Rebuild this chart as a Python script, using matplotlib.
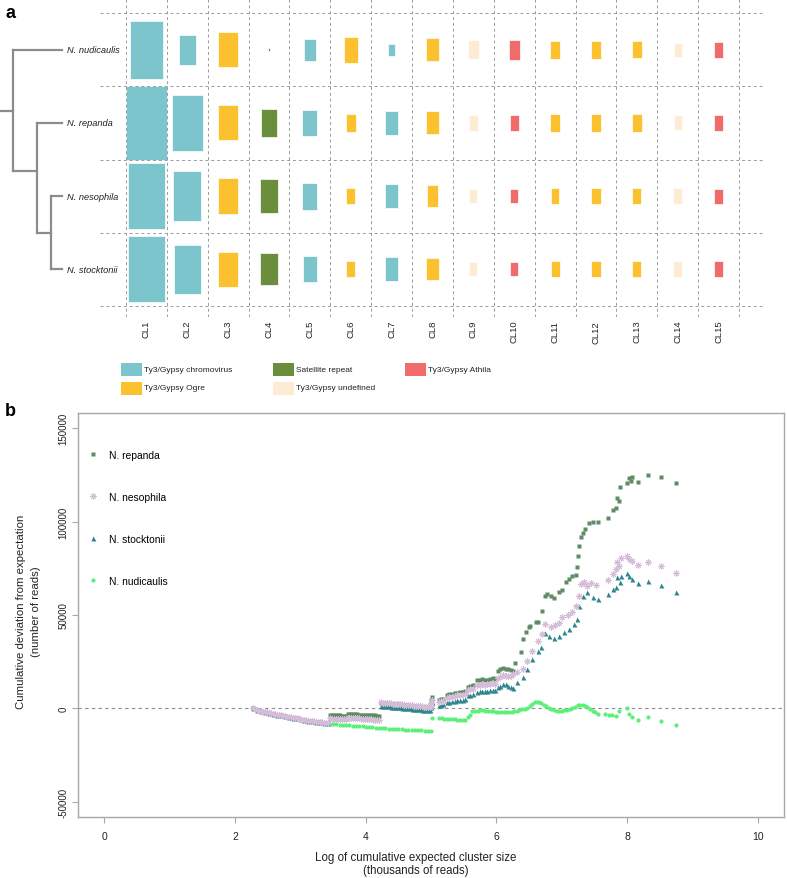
import numpy as np
import matplotlib
matplotlib.use("Agg")
import matplotlib.pyplot as plt
from matplotlib.patches import Rectangle

plt.rcParams['font.family'] = ['Liberation Sans', 'DejaVu Sans']

# ---------------- Panel a data ----------------
clusters = ["CL1", "CL2", "CL3", "CL4", "CL5", "CL6", "CL7", "CL8",
            "CL9", "CL10", "CL11", "CL12", "CL13", "CL14", "CL15"]
cluster_types = ["chromovirus", "chromovirus", "Ogre", "satellite", "chromovirus",
                 "Ogre", "chromovirus", "Ogre", "undefined", "Athila",
                 "Ogre", "Ogre", "Ogre", "undefined", "Athila"]
species_a = ["N. nudicaulis", "N. repanda", "N. nesophila", "N. stocktonii"]

# relative genome proportion of each cluster (rectangle area proportional)
pct_nudicaulis = [6.4, 1.68, 2.26, 0.016, 0.90, 1.22, 0.24, 0.99, 0.68, 0.70, 0.62, 0.65, 0.53, 0.36, 0.44]
pct_repanda = [10.0, 5.78, 2.30, 1.52, 1.33, 0.60, 1.09, 0.99, 0.48, 0.50, 0.58, 0.60, 0.58, 0.42, 0.50]
pct_nesophila = [8.17, 4.62, 2.40, 2.08, 1.37, 0.50, 1.11, 0.85, 0.40, 0.40, 0.44, 0.52, 0.52, 0.52, 0.42]
pct_stocktonii = [8.01, 4.49, 2.30, 1.94, 1.27, 0.50, 1.09, 0.90, 0.40, 0.40, 0.48, 0.52, 0.52, 0.52, 0.44]

type_labels = ["Ty3/Gypsy chromovirus", "Satellite repeat", "Ty3/Gypsy Athila",
               "Ty3/Gypsy Ogre", "Ty3/Gypsy undefined"]
type_keys = ["chromovirus", "satellite", "Athila", "Ogre", "undefined"]
type_colors = {"chromovirus": "#7cc5cc", "Ogre": "#fbc12e", "satellite": "#6b8e3c",
               "Athila": "#f06b6b", "undefined": "#fdebd3"}

# tree: node depths (tip = 1) and node rows
node1_depth, node2_depth = 0.49, 0.776
root_row, node1_row, node2_row = 0.83, 1.66, 2.5

# ---------------- Panel b data ----------------
rep_x = [2.28, 2.34, 2.40, 2.46, 2.52, 2.58, 2.64, 2.70, 2.76, 2.82, 2.88, 2.94, 3.00, 3.06, 3.12, 3.18, 3.24, 3.30, 3.36, 3.42,
         3.45, 3.48, 3.51, 3.54, 3.57, 3.60, 3.63, 3.66, 3.69, 3.72, 3.75, 3.78, 3.81, 3.84, 3.87, 3.90, 3.93, 3.96, 3.99, 4.02, 4.05, 4.08, 4.11, 4.14, 4.17, 4.20,
         4.23, 4.26, 4.29, 4.32, 4.35, 4.38, 4.41, 4.44, 4.47, 4.50, 4.53, 4.56, 4.59, 4.62, 4.65, 4.68, 4.71, 4.74, 4.77, 4.80, 4.83, 4.86, 4.89, 4.92, 4.95, 4.98,
         5.00, 5.00, 5.01, 5.12, 5.15, 5.18,
         5.24, 5.28, 5.32, 5.36, 5.40, 5.44, 5.48, 5.52, 5.56, 5.60, 5.64,
         5.70, 5.74, 5.78, 5.82, 5.86, 5.90, 5.94, 5.98, 6.02, 6.06, 6.10, 6.14, 6.18, 6.22, 6.26,
         6.29, 6.38, 6.41, 6.45, 6.50, 6.52, 6.60, 6.63, 6.70, 6.75, 6.78, 6.83, 6.88, 6.96, 7.01, 7.06, 7.11, 7.16, 7.21,
         7.23, 7.25, 7.27, 7.29, 7.32, 7.35, 7.42, 7.47, 7.55, 7.70, 7.79, 7.83, 7.85, 7.88, 7.89, 8.00, 8.03, 8.06, 8.08,
         8.17, 8.32, 8.51, 8.74]
rep_y = [0, -900, -1500, -2000, -2500, -2900, -3400, -3800, -4200, -4600, -5000, -5400, -5800, -6200, -6500, -6800, -7100, -7400, -7700, -8000,
         -3600, -3700, -3600, -3700, -3800, -3800, -3900, -4000, -4000, -2900, -3000, -3000, -3100, -3100, -3200, -3300, -3300, -3400, -3500, -3500, -3600, -3700, -3700, -3800, -3900, -4000,
         2900, 2800, 2700, 2600, 2500, 2400, 2300, 2200, 2100, 2000, 1900, 1800, 1700, 1600, 1500, 1400, 1300, 1200, 1100, 1000, 900, 800, 700, 600, 500, 400,
         2500, 4500, 6000, 4500, 4800, 5000,
         7200, 7500, 7800, 8100, 8400, 8600, 8900, 9200, 11300, 11800, 12300,
         15000, 15300, 15600, 15200, 15400, 15700, 16000, 15500, 20000, 21000, 21500, 21300, 21000, 20500, 20000,
         24300, 30000, 37100, 40700, 43400, 44300, 46100, 46400, 52300, 60300, 61300, 60200, 58900, 62200, 63600, 67500, 69300, 70700, 71400,
         75600, 81800, 86800, 91600, 94000, 96100, 99300, 99600, 99700, 101800, 106400, 107200, 112500, 111300, 118800, 120700, 123300, 122000, 123800,
         121400, 125000, 123800, 120700]

nes_x = [2.28, 2.31, 2.34, 2.37, 2.40, 2.43, 2.46, 2.49, 2.52, 2.55, 2.58, 2.61, 2.64, 2.67, 2.70, 2.73, 2.76, 2.79, 2.82, 2.85,
         2.88, 2.91, 2.94, 2.97, 3.00, 3.03, 3.06, 3.09, 3.12, 3.15, 3.18, 3.21, 3.24, 3.27, 3.30, 3.33, 3.36, 3.39, 3.42,
         3.45, 3.48, 3.51, 3.54, 3.57, 3.60, 3.63, 3.66, 3.69, 3.72, 3.75, 3.78, 3.81, 3.84, 3.87, 3.90, 3.93, 3.96, 3.99, 4.02, 4.05, 4.08, 4.11, 4.14, 4.17, 4.20,
         4.23, 4.26, 4.29, 4.32, 4.35, 4.38, 4.41, 4.44, 4.47, 4.50, 4.53, 4.56, 4.59, 4.62, 4.65, 4.68, 4.71, 4.74, 4.77, 4.80, 4.83, 4.86, 4.89, 4.92, 4.95, 4.98,
         5.00, 5.00, 5.01, 5.12, 5.15, 5.18,
         5.24, 5.28, 5.32, 5.36, 5.40, 5.44, 5.48, 5.52, 5.56, 5.60, 5.64,
         5.70, 5.74, 5.78, 5.82, 5.86, 5.90, 5.94, 5.98, 6.02, 6.06, 6.10, 6.14, 6.18, 6.22, 6.26,
         6.32, 6.40, 6.47, 6.55, 6.63, 6.70, 6.75, 6.83, 6.89, 6.96, 7.01, 7.09, 7.16, 7.21, 7.26, 7.29, 7.34, 7.39, 7.44, 7.52,
         7.70, 7.79, 7.83, 7.85, 7.88, 7.90, 8.00, 8.03, 8.08, 8.17, 8.32, 8.51, 8.74]
nes_y = [0, -500, -900, -1200, -1500, -1700, -2000, -2200, -2500, -2700, -2900, -3100, -3400, -3600, -3800, -4000, -4200, -4400, -4600, -4800,
         -5000, -5200, -5400, -5600, -5800, -6000, -6200, -6300, -6500, -6700, -6800, -7000, -7100, -7300, -7400, -7500, -7700, -7800, -8000,
         -5400, -5500, -5500, -5600, -5700, -5700, -5800, -5900, -5900, -5000, -5100, -5100, -5200, -5300, -5300, -5400, -5500, -5600, -5700, -5700, -5800, -5900, -6000, -6000, -6100, -6200,
         3200, 3100, 3000, 2900, 2800, 2700, 2600, 2500, 2400, 2300, 2200, 2100, 2000, 1900, 1800, 1700, 1600, 1500, 1400, 1300, 1200, 1100, 1000, 900, 800, 700,
         1500, 3000, 4500, 3600, 3800, 4000,
         5800, 6000, 6300, 6600, 6900, 7100, 7400, 7600, 9800, 10200, 10600,
         12500, 12700, 12900, 12600, 13000, 13300, 13600, 13200, 16500, 17000, 17800, 17500, 17300, 17500, 18500,
         19300, 21100, 25500, 30900, 36200, 39800, 45200, 43400, 44600, 45700, 48800, 50000, 51400, 55000, 60300, 66600, 67500, 65700, 67100, 66100,
         68900, 72000, 74700, 78200, 76100, 80400, 81500, 80000, 79100, 76800, 78200, 76400, 72500]

stk_x = [2.28, 2.34, 2.40, 2.46, 2.52, 2.58, 2.64, 2.70, 2.76, 2.82, 2.88, 2.94, 3.00, 3.06, 3.12, 3.18, 3.24, 3.30, 3.36, 3.42,
         3.45, 3.51, 3.57, 3.63, 3.69, 3.75, 3.81, 3.87, 3.93, 3.99, 4.05, 4.11, 4.17,
         4.23, 4.26, 4.29, 4.32, 4.35, 4.38, 4.41, 4.44, 4.47, 4.50, 4.53, 4.56, 4.59, 4.62, 4.65, 4.68, 4.71, 4.74, 4.77, 4.80, 4.83, 4.86, 4.89, 4.92, 4.95, 4.98,
         5.00, 5.00, 5.01, 5.12, 5.15, 5.18,
         5.24, 5.28, 5.32, 5.36, 5.40, 5.44, 5.48, 5.52, 5.56, 5.60, 5.64,
         5.70, 5.74, 5.78, 5.82, 5.86, 5.90, 5.94, 5.98, 6.02, 6.06, 6.10, 6.14, 6.18, 6.22, 6.26,
         6.32, 6.40, 6.47, 6.55, 6.63, 6.68, 6.75, 6.81, 6.88, 6.96, 7.03, 7.11, 7.19, 7.23, 7.26, 7.32, 7.39, 7.47, 7.55,
         7.70, 7.79, 7.83, 7.85, 7.89, 7.90, 8.00, 8.03, 8.08, 8.17, 8.32, 8.51, 8.74]
stk_y = [0, -900, -1500, -2000, -2500, -2900, -3400, -3800, -4200, -4600, -5000, -5400, -5800, -6200, -6500, -6800, -7100, -7400, -7700, -8000,
         -4800, -4900, -5000, -5100, -5200, -4300, -4400, -4600, -4700, -4900, -5100, -5300, -5400,
         1500, 1400, 1300, 1200, 1100, 1000, 900, 800, 700, 600, 500, 400, 300, 200, 100, 0, -100, -200, -300, -400, -500, -600, -700, -800, -800, -900,
         500, 2000, 3500, 1800, 2000, 2200,
         3300, 3500, 3800, 4000, 4300, 4500, 4700, 4900, 7000, 7400, 7800,
         9000, 9200, 9400, 9100, 9500, 9800, 10000, 9700, 11500, 12100, 12800, 13000, 12000, 11200, 10700,
         13900, 16600, 21100, 26400, 30900, 32700, 40400, 38700, 37500, 38900, 40900, 42500, 45200, 47900, 55000, 60300, 62200, 59500, 58600,
         61300, 63900, 65200, 70200, 67800, 71100, 72500, 70900, 69300, 67100, 68200, 66100, 62500]

nud_x = [2.28, 2.32, 2.36, 2.40, 2.44, 2.48, 2.52, 2.56, 2.60, 2.64, 2.68, 2.72, 2.76, 2.80, 2.84, 2.88, 2.92, 2.96, 3.00, 3.04,
         3.08, 3.12, 3.16, 3.20, 3.24, 3.28, 3.32, 3.36, 3.40, 3.45, 3.50, 3.55, 3.60, 3.65, 3.70, 3.75, 3.80, 3.85, 3.90, 3.95,
         4.00, 4.05, 4.10, 4.15, 4.20, 4.25, 4.30, 4.35, 4.40, 4.45, 4.50, 4.55, 4.60, 4.65, 4.70, 4.75, 4.80, 4.85, 4.90, 4.95, 5.00,
         5.02, 5.12, 5.16, 5.20, 5.24, 5.28, 5.32, 5.36, 5.40, 5.44, 5.48, 5.52,
         5.57, 5.60, 5.63, 5.67, 5.71, 5.75, 5.79, 5.83, 5.87, 5.91, 5.95, 5.99, 6.03, 6.07, 6.11, 6.15, 6.19, 6.23, 6.27, 6.31,
         6.35, 6.39, 6.43, 6.47, 6.51, 6.55, 6.59, 6.62, 6.65, 6.68, 6.72, 6.76, 6.80, 6.84, 6.88, 6.92, 6.96, 7.00, 7.04, 7.08,
         7.12, 7.16, 7.20, 7.24, 7.28, 7.32, 7.35, 7.39, 7.43, 7.47, 7.51, 7.56, 7.66, 7.72, 7.77, 7.83, 7.88, 8.00, 8.03, 8.08,
         8.17, 8.32, 8.51, 8.74]
nud_y = [0, -500, -1000, -1500, -1800, -2100, -2500, -2800, -3100, -3400, -3700, -3900, -4200, -4700, -5000, -5300, -5600, -5900, -6100, -6400,
         -6600, -6800, -7000, -7200, -7400, -7600, -7800, -8000, -8100, -8200, -8400, -8500, -8700, -8800, -9000, -9100, -9300, -9400, -9600, -9700,
         -9900, -10000, -10200, -10300, -10500, -10600, -10700, -10900, -11000, -11100, -11200, -11300, -11400, -11500, -11600, -11700, -11800, -11800, -11900, -11900, -12000,
         -5200, -5300, -5400, -5500, -5600, -5700, -5800, -5900, -6000, -6100, -6200, -6300,
         -4500, -3500, -1300, -1200, -1300, -1100, -1000, -1200, -1300, -1400, -1600, -1800, -2000, -2100, -2200, -2100, -2000, -1800, -1600, -1200,
         -900, -500, -200, 400, 1200, 2200, 3200, 3500, 3200, 2700, 2000, 1200, 300, -400, -900, -1200, -1400, -1300, -1100, -700,
         -200, 400, 1000, 1600, 2000, 1900, 1300, 700, -200, -1200, -2100, -3000, -3000, -3400, -3600, -4000, -1300, 0, -3000, -4600,
         -6300, -4800, -6800, -8800]

# ---------------- Figure ----------------
W, H = 787, 879
fig = plt.figure(figsize=(W / 100, H / 100), dpi=100)


def px_axes(l, t, r, b):
    return fig.add_axes([l / W, 1 - b / H, (r - l) / W, (b - t) / H])


GRID = '#9a9a9a'
n_cl = len(clusters)
n_sp = len(species_a)

# ---- heat/box grid ----
cell_px = (739 - 126) / 15.0
row_px = (306.7 - 14.3) / 4.0
axg = px_axes(100, 0, 763, 318)
axg.set_xlim(0.5 - 26 / cell_px, 15.5 + 24 / cell_px)
axg.set_ylim(3.5 + 11.3 / row_px, -0.5 - 14.3 / row_px)
for s in axg.spines.values():
    s.set_visible(False)

rows = [pct_nudicaulis, pct_repanda, pct_nesophila, pct_stocktonii]
vmax = max(max(r) for r in rows)
for i, vals in enumerate(rows):
    for j, v in enumerate(vals):
        s = np.sqrt(v / vmax)
        col = type_colors[cluster_types[j]]
        axg.add_patch(Rectangle((j + 1 - s / 2, i - s / 2), s, s, facecolor=col,
                                edgecolor='white', linewidth=0.5, zorder=2))
for k in range(n_cl + 1):
    axg.axvline(k + 0.5, color=GRID, lw=0.7, ls=(0, (3, 3)), zorder=3)
for k in range(n_sp + 1):
    axg.axhline(k - 0.5, color=GRID, lw=0.7, ls=(0, (3, 3)), zorder=3)
axg.set_xticks(range(1, n_cl + 1))
axg.set_xticklabels(clusters, rotation=90, fontsize=6.8, color='#222222')
axg.tick_params(axis='x', length=0, pad=2)
axg.set_yticks([])

# ---- tree ----
axt = px_axes(0, 0, 100, 318)
axt.set_ylim(axg.get_ylim())
axt.set_xlim(-13 / 49, 87 / 49)
axt.axis('off')
tc = '#8c8c8c'
tlw = 1.6
segs = [([-13 / 49, 0], [root_row, root_row]),
        ([0, 0], [0, node1_row]),
        ([0, 1], [0, 0]),
        ([0, node1_depth], [node1_row, node1_row]),
        ([node1_depth, node1_depth], [1, node2_row]),
        ([node1_depth, 1], [1, 1]),
        ([node1_depth, node2_depth], [node2_row, node2_row]),
        ([node2_depth, node2_depth], [2, 3]),
        ([node2_depth, 1], [2, 2]),
        ([node2_depth, 1], [3, 3])]
for xs, ys in segs:
    axt.plot(xs, ys, color=tc, lw=tlw, solid_capstyle='projecting')
for i, sp in enumerate(species_a):
    axt.text(1.102, i, sp, style='italic', fontsize=6.7, ha='left', va='center', color='#222222')

# ---- legend a ----
axl = px_axes(100, 355, 560, 400)
axl.set_xlim(100, 560)
axl.set_ylim(400, 355)
axl.axis('off')
leg_pos = [(121, 370), (273, 370), (405, 370), (121, 389), (273, 389)]
for (lx, ly), lab, key in zip(leg_pos, type_labels, type_keys):
    axl.add_patch(Rectangle((lx, ly - 6.5), 21, 13, facecolor=type_colors[key], edgecolor='none'))
    axl.text(lx + 23.5, ly, lab, fontsize=6, va='center', ha='left', color='#222222')

# ---- panel b ----
ax = px_axes(78.3, 414.3, 784, 817.7)
ax.set_xlim(-0.4, 10.4)
ax.set_ylim(-58000, 158000)
ax.axhline(0, color='#8c8c8c', lw=0.8, ls=(0, (3, 3)), zorder=1)

h_nud, = ax.plot(nud_x, nud_y, ls='none', marker='o', ms=3.0, color='#5cef79', mec='none', zorder=2)
h_rep, = ax.plot(rep_x, rep_y, ls='none', marker='s', ms=3.0, color='#5f8b65', mec='none', zorder=3)
h_stk, = ax.plot(stk_x, stk_y, ls='none', marker='^', ms=3.6, color='#2f878d', mec='none', zorder=4)
h_nes, = ax.plot(nes_x, nes_y, ls='none', marker=(8, 2, 0), ms=4.6, mew=0.7, color='#d5bcd9', zorder=5)

for s in ax.spines.values():
    s.set_color('#a8a8a8')
    s.set_linewidth(1.0)
ax.set_xticks([0, 2, 4, 6, 8, 10])
ax.set_xticklabels(['0', '2', '4', '6', '8', '10'])
ax.tick_params(axis='x', length=4, width=0.8, color='#a8a8a8', labelsize=7.5, pad=6, labelcolor='#222222')
ax.set_yticks([-50000, 0, 50000, 100000, 150000])
ax.set_yticklabels(['-50000', '0', '50000', '100000', '150000'], rotation=90, va='center')
ax.tick_params(axis='y', length=4, width=0.8, color='#a8a8a8', labelsize=7, pad=3, labelcolor='#222222')

leg = ax.legend([h_rep, h_nes, h_stk, h_nud],
                ['N. repanda', 'N. nesophila', 'N. stocktonii', 'N. nudicaulis'],
                loc='upper left', bbox_to_anchor=(0.0139, 0.909), frameon=False,
                fontsize=7.4, handlelength=1.0, handletextpad=1.0, labelspacing=3.1,
                borderpad=0, borderaxespad=0)

fig.text(416 / W, 1 - 858 / H, 'Log of cumulative expected cluster size', ha='center', va='center',
         fontsize=8.3, color='#222222')
fig.text(416 / W, 1 - 871 / H, '(thousands of reads)', ha='center', va='center',
         fontsize=8.3, color='#222222')
fig.text(21 / W, 1 - 612 / H, 'Cumulative deviation from expectation', rotation=90,
         ha='center', va='center', fontsize=8.2, color='#222222')
fig.text(36 / W, 1 - 612 / H, '(number of reads)', rotation=90,
         ha='center', va='center', fontsize=8.2, color='#222222')

fig.text(5 / W, 1 - 13 / H, 'a', fontsize=13, fontweight='bold', va='center', ha='left')
fig.text(5 / W, 1 - 411 / H, 'b', fontsize=13, fontweight='bold', va='center', ha='left')

fig.savefig('out.png', dpi=100)
